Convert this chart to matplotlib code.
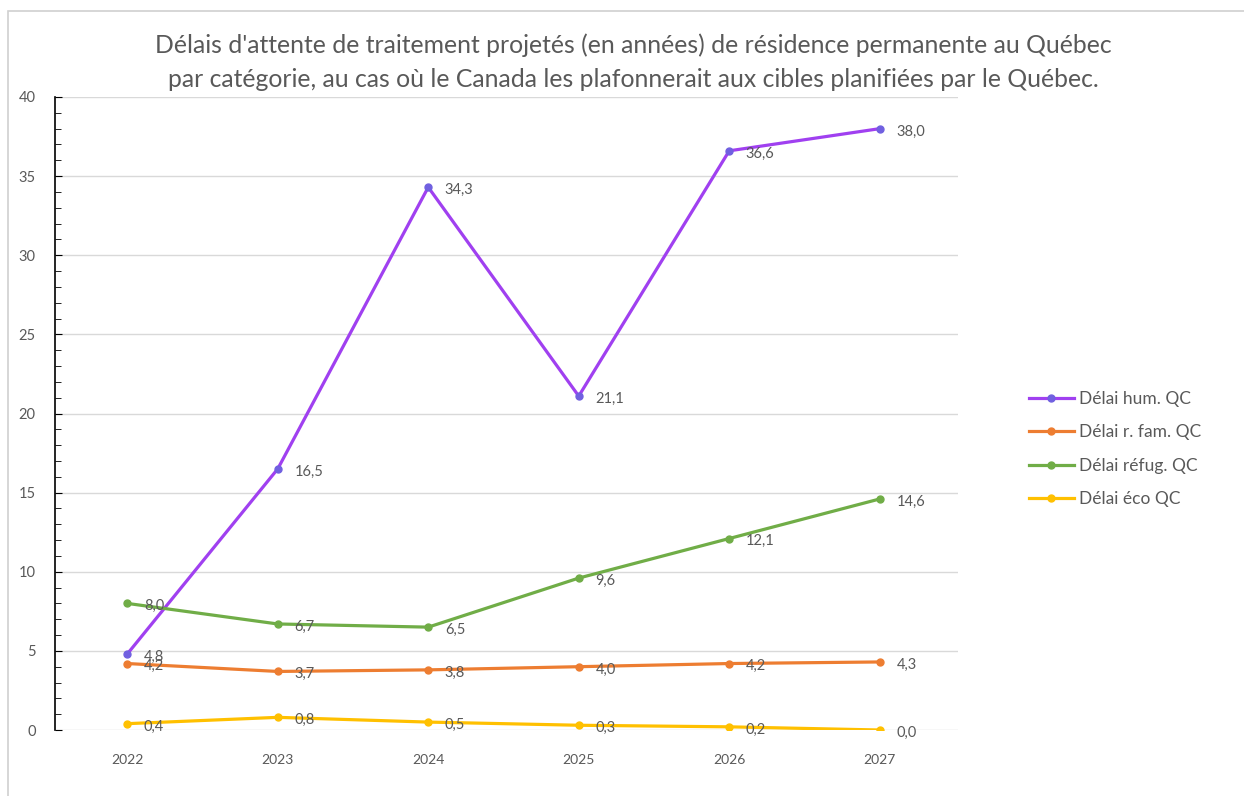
import matplotlib.pyplot as plt
from matplotlib.patches import Rectangle
from matplotlib.ticker import MultipleLocator

plt.rcParams['font.family'] = ['Lato', 'DejaVu Sans']

years = ['2022', '2023', '2024', '2025', '2026', '2027']
hum = [4.8, 16.5, 34.3, 21.1, 36.6, 38.0]
fam = [4.2, 3.7, 3.8, 4.0, 4.2, 4.3]
refug = [8.0, 6.7, 6.5, 9.6, 12.1, 14.6]
eco = [0.4, 0.8, 0.5, 0.3, 0.2, 0.0]

series = [
    ('Délai hum. QC', hum, '#A040F0', '#7060E0'),
    ('Délai r. fam. QC', fam, '#ED7D31', '#ED7D31'),
    ('Délai réfug. QC', refug, '#70AD47', '#70AD47'),
    ('Délai éco QC', eco, '#FFC000', '#FFC000'),
]

fig = plt.figure(figsize=(12.44, 7.96), dpi=100)
fig.patches.append(Rectangle((8 / 1244, -0.01), 1.0, 1 - 11 / 796 + 0.01,
                             transform=fig.transFigure, fill=False,
                             edgecolor='#D0D0D0', linewidth=1.2))
ax = fig.add_axes([55 / 1244, 1 - 730 / 796, (958 - 55) / 1244, (730 - 97) / 796])

x = range(len(years))
for name, vals, col, mcol in series:
    ax.plot(x, vals, color=col, linewidth=2.3, marker='o', markersize=5,
            markerfacecolor=mcol, markeredgecolor=mcol, label=name)
    for i, v in enumerate(vals):
        ax.annotate(f'{v:.1f}'.replace('.', ','), (i, v), xytext=(12, -2),
                    textcoords='offset points', ha='left', va='center',
                    fontsize=10.5, color='#595959')

ax.set_xlim(-0.48, 5.52)
ax.set_ylim(0, 40)
ax.set_xticks(list(x))
ax.set_xticklabels(years)
ax.yaxis.set_major_locator(MultipleLocator(5))
ax.yaxis.set_minor_locator(MultipleLocator(1))
ax.grid(axis='y', color='#D9D9D9', linewidth=1)
ax.set_axisbelow(True)
for s in ['top', 'right', 'bottom']:
    ax.spines[s].set_visible(False)
ax.spines['left'].set_color('black')
ax.spines['left'].set_linewidth(1.2)
ax.tick_params(axis='y', which='both', direction='in', color='black', labelcolor='#595959',
               labelsize=10.5, pad=14)
ax.tick_params(axis='y', which='major', length=5)
ax.tick_params(axis='y', which='minor', length=4)
ax.tick_params(axis='x', length=0, labelcolor='#595959', labelsize=10, pad=17)

fig.text(0.509, 0.922, "Délais d'attente de traitement projetés (en années) de résidence permanente au Québec\n"
         "par catégorie, au cas où le Canada les plafonnerait aux cibles planifiées par le Québec.",
         ha='center', va='center', fontsize=17.8, color='#595959', linespacing=1.6)

fig.legend(loc='center left', bbox_to_anchor=(1013 / 1244, 1 - 449 / 796), frameon=False,
           fontsize=12.5, labelcolor='#595959', handlelength=2.6, handletextpad=0.3,
           labelspacing=1.0)

fig.savefig('out.png', dpi=100)
